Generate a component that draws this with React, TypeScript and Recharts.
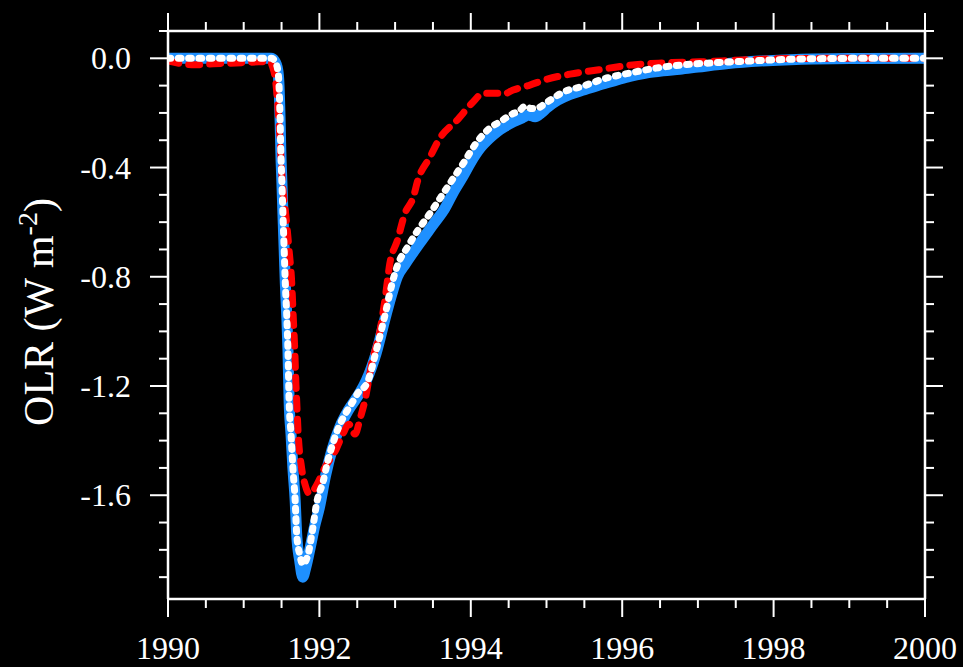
import React from 'react';
import { LineChart, Line, XAxis, YAxis } from 'recharts';

// ---- data (years, OLR anomaly W m-2) ----
const blueYears = [
  1990.0, 1991.0, 1991.36, 1991.41, 1991.45, 1991.465, 1991.48, 1991.49, 1991.505, 1991.52,
  1991.535, 1991.55, 1991.57, 1991.585, 1991.6, 1991.625, 1991.65, 1991.68, 1991.7, 1991.74,
  1991.78, 1991.82, 1991.88, 1991.94, 1992.0, 1992.08, 1992.17, 1992.27, 1992.38, 1992.5,
  1992.62, 1992.75, 1992.88, 1992.96, 1993.03, 1993.13, 1993.33, 1993.5, 1993.66, 1993.78,
  1993.9, 1994.0, 1994.12, 1994.25, 1994.35, 1994.45, 1994.56, 1994.68, 1994.77, 1994.85,
  1994.93, 1995.01, 1995.15, 1995.31, 1995.5, 1995.67, 1995.9, 1996.1, 1996.3, 1996.54,
  1996.76, 1997.0, 1997.4, 1997.82, 1998.3, 1999.0, 2000.0,
];
const blueValues = [
  0, 0, 0, -0.01, -0.043, -0.09, -0.215, -0.337, -0.458, -0.583,
  -0.704, -0.825, -0.95, -1.071, -1.255, -1.376, -1.5, -1.62, -1.743, -1.84,
  -1.9, -1.865, -1.79, -1.71, -1.645, -1.53, -1.43, -1.35, -1.29, -1.24,
  -1.18, -1.08, -0.94, -0.86, -0.8, -0.755, -0.675, -0.61, -0.548, -0.485,
  -0.43, -0.38, -0.33, -0.292, -0.268, -0.25, -0.233, -0.218, -0.208, -0.214,
  -0.2, -0.18, -0.153, -0.132, -0.115, -0.1, -0.082, -0.066, -0.055, -0.046,
  -0.04, -0.032, -0.019, -0.01, -0.004, -0.001, 0,
];

const redYears = [
  1990.0, 1990.35, 1990.6, 1990.9, 1991.2, 1991.35, 1991.38, 1991.42, 1991.47, 1991.51,
  1991.56, 1991.6, 1991.635, 1991.655, 1991.675, 1991.69, 1991.7, 1991.72, 1991.765, 1991.81,
  1991.87, 1991.9, 1991.97, 1992.07, 1992.21, 1992.31, 1992.39, 1992.47, 1992.54, 1992.6,
  1992.69, 1992.8, 1992.87, 1992.93, 1993.03, 1993.13, 1993.24, 1993.3, 1993.46, 1993.59,
  1993.82, 1994.03, 1994.16, 1994.35, 1994.43, 1994.56, 1994.78, 1995.01, 1995.31, 1995.67,
  1996.1, 1996.54, 1997.03, 1997.6, 1998.2, 1999.0, 2000.0,
];
const redValues = [
  -0.01, -0.024, -0.02, -0.017, -0.013, -0.012, -0.03, -0.08, -0.25, -0.45,
  -0.583, -0.704, -0.825, -0.95, -1.071, -1.192, -1.255, -1.376, -1.5, -1.56,
  -1.595, -1.59, -1.56, -1.5, -1.438, -1.376, -1.34, -1.376, -1.317, -1.255,
  -1.119, -0.998, -0.876, -0.752, -0.667, -0.568, -0.509, -0.447, -0.362, -0.293,
  -0.226, -0.16, -0.128, -0.128, -0.131, -0.116, -0.098, -0.076, -0.058, -0.043,
  -0.025, -0.017, -0.013, -0.006, -0.001, 0, 0,
];

const whiteYears = [
  1990.0, 1991.0, 1991.37, 1991.41, 1991.45, 1991.465, 1991.48, 1991.49, 1991.505, 1991.52,
  1991.535, 1991.55, 1991.57, 1991.585, 1991.6, 1991.625, 1991.65, 1991.68, 1991.7, 1991.74,
  1991.78, 1991.85, 1991.9, 1991.97, 1992.05, 1992.11, 1992.18, 1992.25, 1992.34, 1992.43,
  1992.51, 1992.63, 1992.76, 1992.87, 1992.97, 1993.04, 1993.16, 1993.3, 1993.46, 1993.6,
  1993.75, 1993.9, 1994.08, 1994.25, 1994.4, 1994.52, 1994.65, 1994.72, 1994.8, 1994.87,
  1995.01, 1995.22, 1995.48, 1995.75, 1996.1, 1996.54, 1996.94, 1997.38, 1997.82, 1998.26,
  1998.7, 1999.2, 2000.0,
];
const whiteValues = [
  0, 0, 0, -0.01, -0.043, -0.09, -0.215, -0.337, -0.458, -0.583,
  -0.704, -0.825, -0.95, -1.071, -1.255, -1.376, -1.5, -1.62, -1.743, -1.817,
  -1.853, -1.817, -1.743, -1.62, -1.549, -1.475, -1.409, -1.354, -1.303, -1.262,
  -1.225, -1.189, -1.06, -0.936, -0.814, -0.752, -0.693, -0.63, -0.568, -0.51,
  -0.447, -0.385, -0.307, -0.256, -0.23, -0.208, -0.19, -0.175, -0.184, -0.183,
  -0.16, -0.124, -0.102, -0.076, -0.054, -0.032, -0.021, -0.014, -0.008, -0.003,
  -0.001, 0, 0,
];

const xTicks = [
  1990, 1990.5, 1991, 1991.5, 1992, 1992.5, 1993, 1993.5, 1994, 1994.5, 1995,
  1995.5, 1996, 1996.5, 1997, 1997.5, 1998, 1998.5, 1999, 1999.5, 2000,
];
const xLabelTicks = [1990, 1992, 1994, 1996, 1998, 2000];
const yTicks = [
  0.1, 0, -0.1, -0.2, -0.3, -0.4, -0.5, -0.6, -0.7, -0.8, -0.9, -1.0,
  -1.1, -1.2, -1.3, -1.4, -1.5, -1.6, -1.7, -1.8, -1.9,
];
const yLabelTicks = [0, -0.4, -0.8, -1.2, -1.6];

const toPoints = (xs: number[], ys: number[]) => xs.map((x, i) => ({ x, y: ys[i] }));
const blueData = toPoints(blueYears, blueValues);
const redData = toPoints(redYears, redValues);
const whiteData = toPoints(whiteYears, whiteValues);

const FONT = '"Liberation Serif", "Times New Roman", serif';
const MAJOR = 18;
const MINOR = 9;
const TICK_W = 2;

const isMajorY = (v: number) => yLabelTicks.some((t) => Math.abs(t - v) < 1e-6);
const isMajorX = (v: number) => xLabelTicks.some((t) => Math.abs(t - v) < 1e-6);

const BottomTick = (props: any) => {
  const { x, y, payload } = props;
  const major = isMajorX(payload.value);
  return (
    <g>
      <line x1={x} y1={y} x2={x} y2={y + (major ? MAJOR : MINOR)} stroke="#fff" strokeWidth={TICK_W} />
      {major && (
        <text x={x} y={y + 60} textAnchor="middle" fill="#fff" fontSize={32} fontFamily={FONT}>
          {String(payload.value)}
        </text>
      )}
    </g>
  );
};

const TopTick = (props: any) => {
  const { x, y, payload } = props;
  const major = isMajorX(payload.value);
  return <line x1={x} y1={y} x2={x} y2={y - (major ? MAJOR : MINOR)} stroke="#fff" strokeWidth={TICK_W} />;
};

const LeftTick = (props: any) => {
  const { x, y, payload } = props;
  const major = isMajorY(payload.value);
  return (
    <g>
      <line x1={x} y1={y} x2={x - (major ? MAJOR : MINOR)} y2={y} stroke="#fff" strokeWidth={TICK_W} />
      {major && (
        <text x={x - 37} y={y + 11} textAnchor="end" fill="#fff" fontSize={32} fontFamily={FONT}>
          {Number(payload.value).toFixed(1)}
        </text>
      )}
    </g>
  );
};

const RightTick = (props: any) => {
  const { x, y, payload } = props;
  const major = isMajorY(payload.value);
  return <line x1={x} y1={y} x2={x + (major ? MAJOR : MINOR)} y2={y} stroke="#fff" strokeWidth={TICK_W} />;
};

const YTitle = () => (
  <text
    x={53}
    y={312}
    transform="rotate(-90, 53, 312)"
    textAnchor="middle"
    fill="#fff"
    fontSize={42}
    fontFamily={FONT}
  >
    OLR (W m
    <tspan dy={-16} fontSize={28}>-2</tspan>
    <tspan dy={16}>)</tspan>
  </text>
);

export default function App() {
  return (
    <div style={{ position: 'absolute', left: 0, top: 0, width: 963, height: 667, background: '#000' }}>
      <LineChart width={963} height={667} margin={{ top: 0, right: 0, bottom: 0, left: 0 }}>
        <XAxis
          xAxisId="b"
          type="number"
          dataKey="x"
          orientation="bottom"
          domain={[1990, 2000]}
          allowDataOverflow
          ticks={xTicks}
          interval={0}
          height={68}
          tickLine={false}
          tickSize={0}
          tickMargin={0}
          tick={<BottomTick />}
          axisLine={{ stroke: '#fff', strokeWidth: 2.5 }}
        />
        <XAxis
          xAxisId="t"
          type="number"
          dataKey="x"
          orientation="top"
          domain={[1990, 2000]}
          allowDataOverflow
          ticks={xTicks}
          interval={0}
          height={31}
          tickLine={false}
          tickSize={0}
          tickMargin={0}
          tick={<TopTick />}
          axisLine={{ stroke: '#fff', strokeWidth: 2.5 }}
        />
        <YAxis
          yAxisId="l"
          type="number"
          orientation="left"
          domain={[-1.98, 0.1]}
          allowDataOverflow
          ticks={yTicks}
          interval={0}
          width={168}
          tickLine={false}
          tickSize={0}
          tickMargin={0}
          tick={<LeftTick />}
          axisLine={{ stroke: '#fff', strokeWidth: 2.5 }}
          label={<YTitle />}
        />
        <YAxis
          yAxisId="r"
          type="number"
          orientation="right"
          domain={[-1.98, 0.1]}
          allowDataOverflow
          ticks={yTicks}
          interval={0}
          width={38}
          tickLine={false}
          tickSize={0}
          tickMargin={0}
          tick={<RightTick />}
          axisLine={{ stroke: '#fff', strokeWidth: 2.5 }}
        />
        <Line
          xAxisId="b"
          yAxisId="l"
          data={blueData}
          dataKey="y"
          type="monotone"
          stroke="#1e90ff"
          strokeWidth={11}
          strokeLinecap="round"
          strokeLinejoin="round"
          dot={false}
          activeDot={false}
          isAnimationActive={false}
        />
        <Line
          xAxisId="b"
          yAxisId="l"
          data={redData}
          dataKey="y"
          type="monotone"
          stroke="#ff0000"
          strokeWidth={7}
          strokeDasharray="11 10"
          strokeLinecap="round"
          strokeLinejoin="round"
          dot={false}
          activeDot={false}
          isAnimationActive={false}
        />
        <Line
          xAxisId="b"
          yAxisId="l"
          data={whiteData}
          dataKey="y"
          type="monotone"
          stroke="#ffffff"
          strokeWidth={7}
          strokeDasharray="2.8 7.5"
          strokeLinecap="round"
          strokeLinejoin="round"
          dot={false}
          activeDot={false}
          isAnimationActive={false}
        />
      </LineChart>
    </div>
  );
}
